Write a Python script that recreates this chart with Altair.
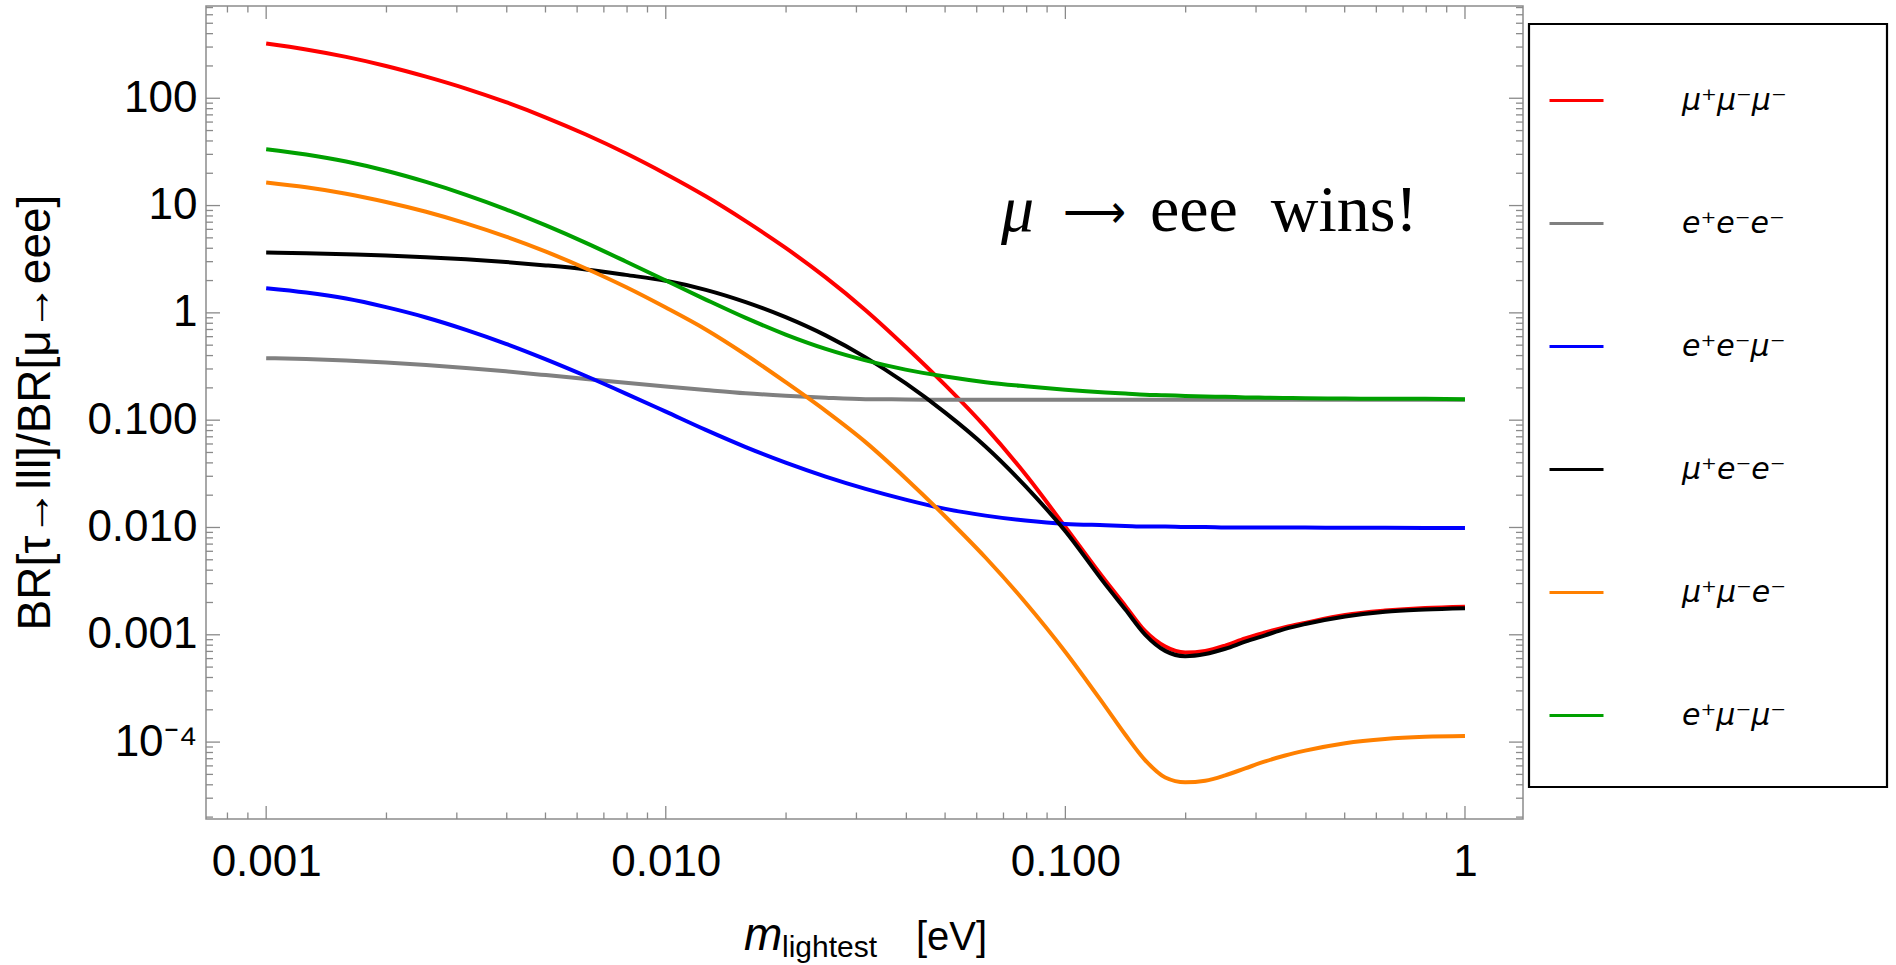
import altair as alt
import pandas as pd

# ---------------- data ----------------
M_LIGHTEST = [0.001, 0.001259, 0.001585, 0.001995, 0.002512, 0.003162, 0.003981, 0.005012,
              0.00631, 0.007943, 0.01, 0.01259, 0.01585, 0.01995, 0.02512, 0.03162, 0.03981,
              0.05012, 0.0631, 0.07943, 0.1, 0.1259, 0.1413, 0.1585, 0.1778, 0.1995, 0.2239,
              0.2512, 0.2818, 0.3162, 0.3548, 0.3981, 0.5012, 0.631, 0.7943, 1.0]

SERIES = ["μ⁺μ⁻μ⁻", "e⁺e⁻e⁻", "e⁺e⁻μ⁻", "μ⁺e⁻e⁻", "μ⁺μ⁻e⁻", "e⁺μ⁻μ⁻"]
COLORS = ["#ff0000", "#808080", "#0000ff", "#000000", "#ff8000", "#00a000"]

MU_MU_MU = [324, 285, 243, 200, 159, 123, 91.8, 66.1, 45.9, 30.7, 19.7, 12.2, 7.16, 4.03, 2.14,
            1.06, 0.484, 0.211, 0.0861, 0.0313, 0.0101, 0.0032, 0.00186, 0.00108, 0.000776,
            0.000684, 0.000708, 0.000794, 0.000927, 0.00105, 0.001175, 0.00129, 0.00153,
            0.00168, 0.00178, 0.00183]
E_E_E = [0.378, 0.371, 0.360, 0.345, 0.327, 0.307, 0.285, 0.263, 0.242, 0.223, 0.206, 0.191,
         0.178, 0.169, 0.162, 0.157, 0.156, 0.155, 0.155, 0.155, 0.155, 0.155, 0.155, 0.155,
         0.155, 0.155, 0.155, 0.155, 0.155, 0.155, 0.155, 0.155, 0.155, 0.155, 0.155, 0.155]
E_E_MU = [1.70, 1.55, 1.36, 1.13, 0.906, 0.695, 0.515, 0.369, 0.258, 0.177, 0.120, 0.0811,
          0.0561, 0.0402, 0.0298, 0.0229, 0.0182, 0.0149, 0.0129, 0.0116, 0.0108, 0.0105,
          0.01035, 0.0102, 0.0102, 0.0101, 0.0101, 0.0100, 0.0100, 0.0100, 0.0100, 0.00998,
          0.00995, 0.00993, 0.00991, 0.00989]
MU_E_E = [3.65, 3.60, 3.52, 3.43, 3.30, 3.16, 2.98, 2.77, 2.54, 2.26, 1.99, 1.64, 1.26, 0.912,
          0.617, 0.385, 0.221, 0.117, 0.0569, 0.0243, 0.00923, 0.00295, 0.00172, 0.00100,
          0.000708, 0.000631, 0.000661, 0.000741, 0.000863, 0.000989, 0.001135, 0.00126,
          0.00148, 0.00164, 0.00172, 0.00177]
MU_MU_E = [16.4, 14.8, 12.9, 10.8, 8.75, 6.82, 5.13, 3.72, 2.59, 1.74, 1.12, 0.700, 0.407,
           0.226, 0.122, 0.0624, 0.0288, 0.0126, 0.00525, 0.00200, 0.000692, 0.000214,
           0.000117, 6.76e-5, 4.68e-5, 4.22e-5, 4.37e-5, 4.9e-5, 5.69e-5, 6.61e-5, 7.5e-5,
           8.32e-5, 9.77e-5, 1.07e-4, 1.12e-4, 1.14e-4]
E_MU_MU = [33.5, 29.9, 25.7, 21.1, 16.6, 12.6, 9.23, 6.53, 4.49, 3.01, 2.00, 1.33, 0.897, 0.628,
           0.462, 0.361, 0.296, 0.255, 0.226, 0.207, 0.192, 0.181, 0.177, 0.173, 0.171, 0.168,
           0.166, 0.165, 0.163, 0.162, 0.161, 0.160, 0.159, 0.158, 0.158, 0.157]
VALUES = [MU_MU_MU, E_E_E, E_E_MU, MU_E_E, MU_MU_E, E_MU_MU]

X_DOMAIN = [7.07e-4, 1.397]
Y_DOMAIN = [1.92e-5, 724]
X_TICKS = [0.001, 0.01, 0.1, 1]
X_TICK_LABELS = ["0.001", "0.010", "0.100", "1"]
Y_TICKS = [0.0001, 0.001, 0.01, 0.1, 1, 10, 100]
Y_TICK_LABELS = ["10⁻⁴", "0.001", "0.010", "0.100", "1", "10", "100"]
X_MINOR = [0.0008, 0.0009,
           0.002, 0.003, 0.004, 0.005, 0.006, 0.007, 0.008, 0.009,
           0.02, 0.03, 0.04, 0.05, 0.06, 0.07, 0.08, 0.09,
           0.2, 0.3, 0.4, 0.5, 0.6, 0.7, 0.8, 0.9]
Y_MINOR = [2e-5, 3e-5, 4e-5, 5e-5, 6e-5, 7e-5, 8e-5, 9e-5,
           2e-4, 3e-4, 4e-4, 5e-4, 6e-4, 7e-4, 8e-4, 9e-4,
           0.002, 0.003, 0.004, 0.005, 0.006, 0.007, 0.008, 0.009,
           0.02, 0.03, 0.04, 0.05, 0.06, 0.07, 0.08, 0.09,
           0.2, 0.3, 0.4, 0.5, 0.6, 0.7, 0.8, 0.9,
           2, 3, 4, 5, 6, 7, 8, 9,
           20, 30, 40, 50, 60, 70, 80, 90,
           200, 300, 400, 500, 600, 700]
ANNOT_M = [0.069]
ANNOT_V = [5.8]

# ---------------- layout ----------------
W, H = 1317, 813
FONT = "Liberation Sans"
SERIF = "Liberation Serif"
TICK_COLOR = "#8a8a8a"

rows = [{"m": m, "value": v, "series": s}
        for s, vals in zip(SERIES, VALUES) for m, v in zip(M_LIGHTEST, vals)]
df = pd.DataFrame(rows)


def label_expr(values, labels):
    return ("[" + ",".join(f"'{l}'" for l in labels) + "][indexof(["
            + ",".join(repr(v) for v in values) + "], datum.value)]")


x_scale = alt.Scale(type="log", domain=X_DOMAIN, nice=False)
y_scale = alt.Scale(type="log", domain=Y_DOMAIN, nice=False)
color_scale = alt.Scale(domain=SERIES, range=COLORS)

x_axis = alt.Axis(values=X_TICKS, labelExpr=label_expr(X_TICKS, X_TICK_LABELS), title=None,
                  domain=False, ticks=False, grid=False, labelPadding=21, labelFontSize=44,
                  labelFont=FONT, labelColor="black", labelFlush=False, labelOverlap=False)
y_axis = alt.Axis(values=Y_TICKS, labelExpr=label_expr(Y_TICKS, Y_TICK_LABELS),
                  title="BR[τ→lll]/BR[μ→eee]", domain=False, ticks=False, grid=False,
                  labelPadding=9, labelFontSize=44, labelFont=FONT, labelColor="black",
                  labelOverlap=False, labelFlush=False,
                  titleFont=FONT, titleFontSize=46, titleFontWeight="normal", titleColor="black",
                  titleX=-171, titleY=406, titleAngle=270, titleAlign="center",
                  titleBaseline="middle")

legend = alt.Legend(title=None, orient="none", legendX=1342, legendY=66, symbolType="stroke",
                    symbolSize=2916, symbolStrokeWidth=3, labelFont="DejaVu Sans",
                    labelFontStyle="italic", labelFontSize=30, labelColor="black",
                    labelOffset=77, rowPadding=79, padding=0, labelLimit=400)


def X(field):
    return alt.X(f"{field}:Q", scale=x_scale, axis=x_axis)


def Y(field):
    return alt.Y(f"{field}:Q", scale=y_scale, axis=y_axis)


layers = []

# inward frame ticks on all four sides
xmaj = pd.DataFrame({"t": X_TICKS})
xmin = pd.DataFrame({"t": X_MINOR})
ymaj = pd.DataFrame({"t": Y_TICKS})
ymin = pd.DataFrame({"t": Y_MINOR})
for d, ln in ((xmaj, 13), (xmin, 6.5)):
    layers.append(alt.Chart(d).mark_rule(color=TICK_COLOR, strokeWidth=1.3).encode(
        x=X("t"), y=alt.value(H), y2=alt.value(H - ln)))
    layers.append(alt.Chart(d).mark_rule(color=TICK_COLOR, strokeWidth=1.3).encode(
        x=X("t"), y=alt.value(0), y2=alt.value(ln)))
for d, ln in ((ymaj, 14), (ymin, 7)):
    layers.append(alt.Chart(d).mark_rule(color=TICK_COLOR, strokeWidth=1.3).encode(
        y=Y("t"), x=alt.value(0), x2=alt.value(ln)))
    layers.append(alt.Chart(d).mark_rule(color=TICK_COLOR, strokeWidth=1.3).encode(
        y=Y("t"), x=alt.value(W), x2=alt.value(W - ln)))

# curves, drawn in legend order
for s in SERIES:
    layers.append(
        alt.Chart(df).transform_filter(alt.datum.series == s)
        .mark_line(strokeWidth=4, interpolate="monotone")
        .encode(x=X("m"), y=Y("value"),
                color=alt.Color("series:N", scale=color_scale, legend=legend))
    )

# annotation  "μ → eee wins!"
ann = pd.DataFrame({"m": ANNOT_M, "value": ANNOT_V})
layers.append(alt.Chart(ann).mark_text(text="μ", font=SERIF, fontSize=66, fontStyle="italic",
                                       align="left", baseline="alphabetic", color="black")
              .encode(x=X("m"), y=Y("value")))
layers.append(alt.Chart(ann).mark_text(text="⟶", font="DejaVu Sans", fontSize=44,
                                       fontWeight=300, align="left", baseline="alphabetic",
                                       dx=62, dy=-4, color="black")
              .encode(x=X("m"), y=Y("value")))
layers.append(alt.Chart(ann).mark_text(text="eee\u2002wins!", font=SERIF, fontSize=66,
                                       align="left", baseline="alphabetic", dx=149,
                                       color="black")
              .encode(x=X("m"), y=Y("value")))

one = pd.DataFrame({"k": [0]})
# legend frame
layers.append(alt.Chart(one).mark_rect(fillOpacity=0, stroke="black", strokeWidth=2.2).encode(
    x=alt.value(1323), x2=alt.value(1681), y=alt.value(18), y2=alt.value(781)))

# x-axis title: m_lightest [eV]
layers.append(alt.Chart(one).mark_text(text="m", font=FONT, fontSize=46, fontStyle="italic",
                                       align="left", baseline="alphabetic", color="black")
              .encode(x=alt.value(538), y=alt.value(944)))
layers.append(alt.Chart(one).mark_text(text="lightest", font=FONT, fontSize=30,
                                       align="left", baseline="alphabetic", color="black")
              .encode(x=alt.value(576), y=alt.value(951)))
layers.append(alt.Chart(one).mark_text(text="[eV]", font=FONT, fontSize=40,
                                       align="left", baseline="alphabetic", color="black")
              .encode(x=alt.value(710), y=alt.value(944)))

chart = (
    alt.layer(*layers)
    .properties(width=W, height=H, autosize=alt.AutoSizeParams(type="none"),
                padding={"left": 206, "top": 6, "right": 373, "bottom": 146},
                background="white")
    .configure_view(stroke="#8c8c8c", strokeWidth=1.5)
)

chart.save("out.html", embed_options={"renderer": "svg", "actions": False})
